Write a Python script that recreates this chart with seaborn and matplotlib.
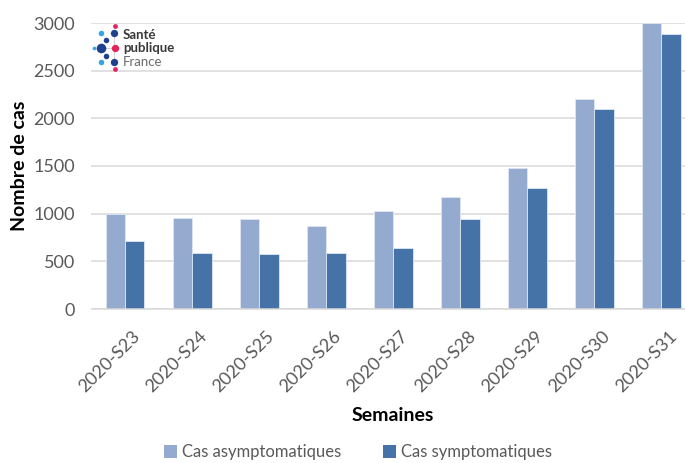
import matplotlib
matplotlib.use("Agg")
import matplotlib.pyplot as plt
import matplotlib.transforms as mtransforms
import seaborn as sns
import pandas as pd
from matplotlib.patches import Patch

semaines = ["2020-S23", "2020-S24", "2020-S25", "2020-S26", "2020-S27",
            "2020-S28", "2020-S29", "2020-S30", "2020-S31"]
asymptomatiques = [1000, 950, 940, 870, 1030, 1180, 1475, 2200, 3000]
symptomatiques = [712, 588, 578, 588, 637, 940, 1272, 2098, 2885]
series = ["Cas asymptomatiques", "Cas symptomatiques"]
couleurs = ["#95AACF", "#4573A7"]
y_ticks = [0, 500, 1000, 1500, 2000, 2500, 3000]

df = pd.DataFrame({
    "Semaines": semaines * 2,
    "Cas": asymptomatiques + symptomatiques,
    "Type": [series[0]] * len(semaines) + [series[1]] * len(semaines),
})

sns.set_theme(style="white")
plt.rcParams["font.family"] = ["Lato", "DejaVu Sans"]

fig = plt.figure(figsize=(6.85, 4.63), dpi=100)
ax = fig.add_axes([91.5 / 685, 154 / 463, (695 - 91.5) / 685, 286 / 463])

sns.barplot(data=df, x="Semaines", y="Cas", hue="Type", order=semaines,
            hue_order=series, palette=couleurs, saturation=1, width=0.58, gap=0,
            edgecolor="#dfe7f3", linewidth=0.6, legend=False, ax=ax)

ax.set_ylim(0, 3000)
ax.set_xlim(-0.5, len(semaines) - 0.5)
ax.set_yticks(y_ticks)
ax.yaxis.grid(True, color="#d9d9d9", linewidth=1.1)
ax.set_axisbelow(True)
for s in ["left", "right", "top"]:
    ax.spines[s].set_visible(False)
ax.spines["bottom"].set_color("#d9d9d9")
ax.spines["bottom"].set_linewidth(1.1)
ax.tick_params(axis="y", length=0, pad=12, labelsize=13, labelcolor="#595959")
ax.tick_params(axis="x", length=0, pad=14, labelsize=13, labelcolor="#595959")
offset = mtransforms.ScaledTranslation(7 / 100, 0, fig.dpi_scale_trans)
for lab in ax.get_xticklabels():
    lab.set_rotation(45)
    lab.set_ha("right")
    lab.set_rotation_mode("anchor")
    lab.set_transform(lab.get_transform() + offset)

ax.set_ylabel("Nombre de cas", fontsize=14, fontweight="bold", color="black", labelpad=4)
ax.set_xlabel("Semaines", fontsize=14, fontweight="bold", color="black", labelpad=8)

handles = [Patch(facecolor=c, edgecolor="none") for c in couleurs]
fig.legend(handles, series, loc="lower center", bbox_to_anchor=(358 / 685, 0.0),
           borderaxespad=0.05, borderpad=0.1,
           ncol=2, frameon=False, fontsize=12, handlelength=0.8, handleheight=0.8,
           handletextpad=0.3, columnspacing=2.5, labelcolor="#595959")

# Logo Santé publique France (decoration)
dots = [
    (115, 26, 12, "#e5245e"), (114, 33, 28, "#1f3f8f"), (101, 33, 16, "#33a8e0"),
    (106, 40, 16, "#1f3f8f"), (94, 48, 7, "#33a8e0"), (101, 48, 48, "#1f3f8f"),
    (115, 48, 28, "#e5245e"), (106, 56, 16, "#1f3f8f"), (101, 62, 16, "#33a8e0"),
    (114, 62, 28, "#1f3f8f"), (115, 69, 12, "#e5245e"),
]
logo_ax = fig.add_axes([0, 0, 1, 1], facecolor="none")
logo_ax.set_xlim(0, 685)
logo_ax.set_ylim(463, 0)
logo_ax.axis("off")
logo_ax.plot([101, 115], [48, 48], color="#cccccc", lw=0.6, zorder=1)
logo_ax.plot([114, 114], [33, 62], color="#cccccc", lw=0.6, zorder=1)
for (x, y, s, c) in dots:
    logo_ax.scatter([x], [y], s=s, color=c, linewidths=0, zorder=2)
logo_ax.text(123, 35, "Santé", fontsize=9.5, fontweight="bold", color="#3a3a3a", va="center")
logo_ax.text(123, 48, "publique", fontsize=9.5, fontweight="bold", color="#3a3a3a", va="center")
logo_ax.text(123, 62, "France", fontsize=9.5, color="#6b6b6b", va="center")

fig.savefig("out.png", dpi=100)
